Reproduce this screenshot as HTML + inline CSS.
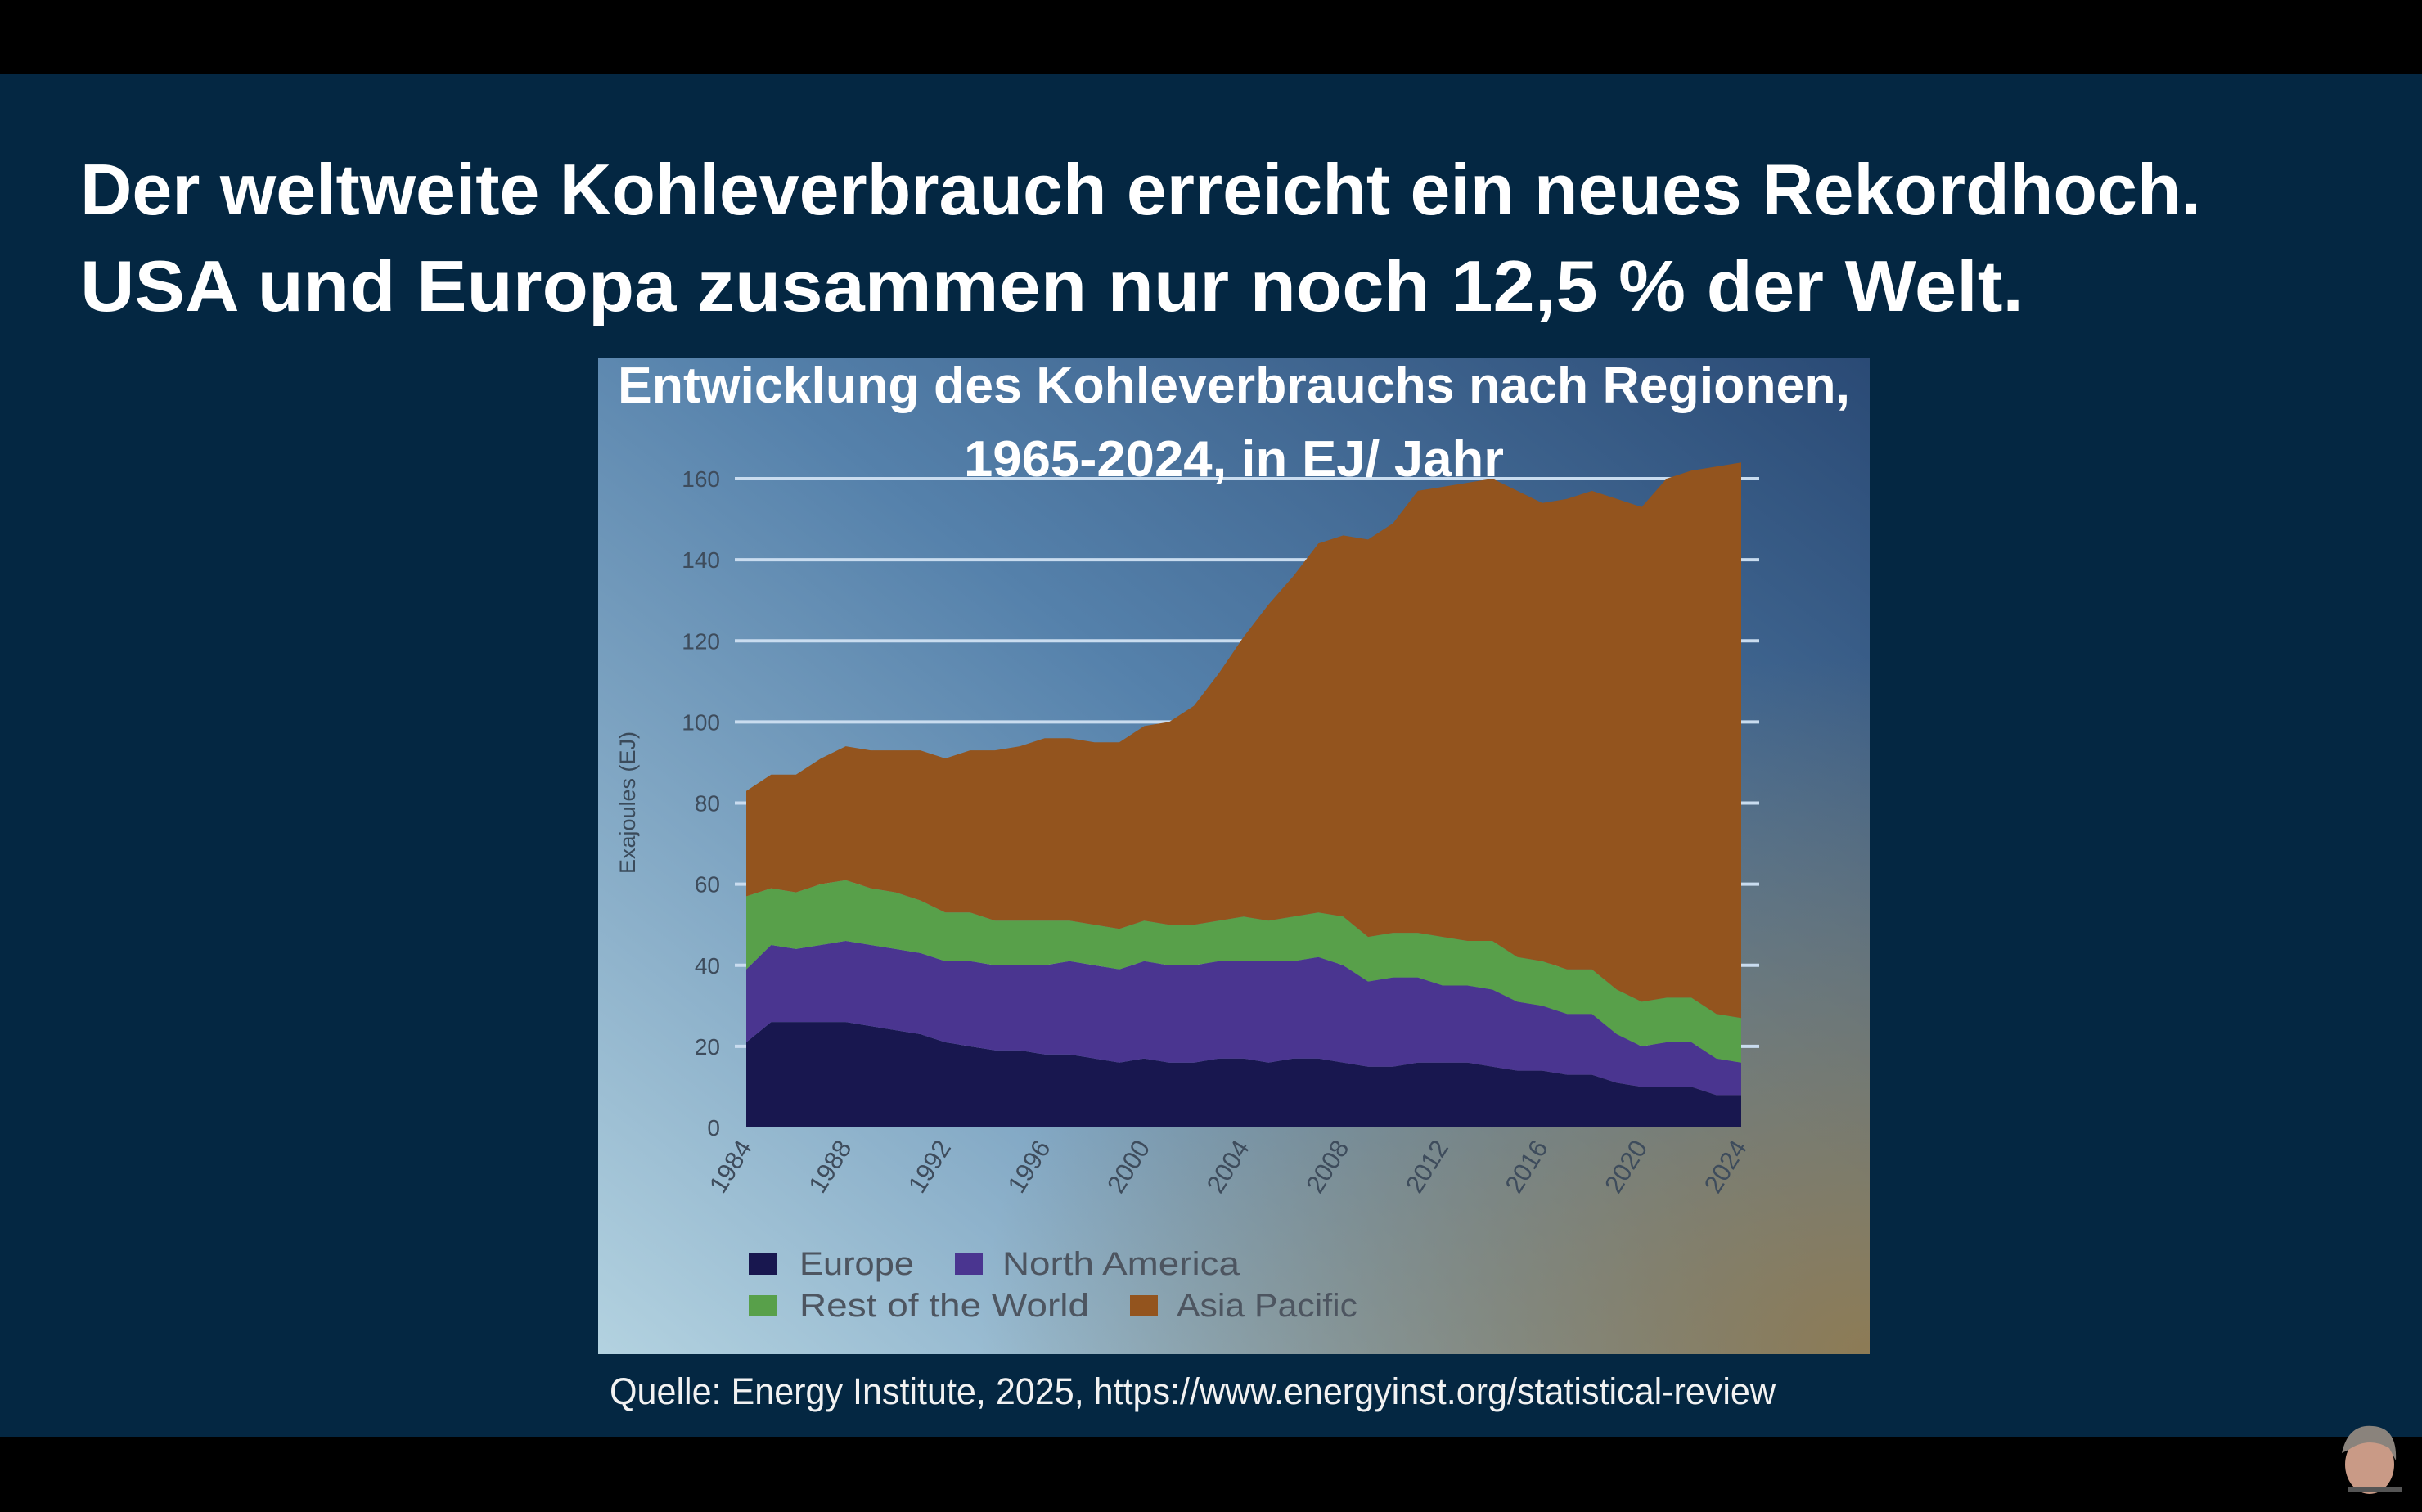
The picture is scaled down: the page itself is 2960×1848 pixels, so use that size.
<!DOCTYPE html>
<html><head><meta charset="utf-8">
<style>
html,body{margin:0;padding:0;background:#000;}
svg{display:block;}
text{font-family:"Liberation Sans",sans-serif;}
</style></head>
<body>
<svg id="page" width="2960" height="1848" viewBox="0 0 2960 1848" xmlns="http://www.w3.org/2000/svg">
<defs>
<linearGradient id="pg" x1="1" y1="0" x2="0" y2="1">
<stop offset="0" stop-color="#2a4a75"/>
<stop offset="0.45" stop-color="#5581ab"/>
<stop offset="1" stop-color="#b3d2e0"/>
</linearGradient>
<radialGradient id="tan" cx="1" cy="1" r="0.7">
<stop offset="0" stop-color="#8d7b55" stop-opacity="1"/>
<stop offset="1" stop-color="#8d7b55" stop-opacity="0"/>
</radialGradient>
</defs>
<rect x="0" y="0" width="2960" height="1848" fill="#000"/>
<rect x="0" y="91" width="2960" height="1665" fill="#042742"/>
<text x="98" y="262" font-size="88" font-weight="bold" fill="#fff" textLength="2592" lengthAdjust="spacingAndGlyphs">Der weltweite Kohleverbrauch erreicht ein neues Rekordhoch.</text>
<text x="98" y="380" font-size="88" font-weight="bold" fill="#fff" textLength="2375" lengthAdjust="spacingAndGlyphs">USA und Europa zusammen nur noch 12,5 % der Welt.</text>
<g>
<rect x="731" y="438" width="1554" height="1217" fill="url(#pg)"/>
<rect x="731" y="438" width="1554" height="1217" fill="url(#tan)"/>
<g id="grid"></g>
<g id="areas"></g>
<g id="yticks"></g>
<g id="xticks"></g>
<text x="0" y="0" transform="translate(776,981) rotate(-90)" text-anchor="middle" font-size="27" fill="#3a4a5a">Exajoules (EJ)</text>
<text x="1508" y="492" text-anchor="middle" font-size="62" font-weight="bold" fill="#fff" textLength="1506" lengthAdjust="spacingAndGlyphs">Entwicklung des Kohleverbrauchs nach Regionen,</text>
<text x="1508" y="582" text-anchor="middle" font-size="62" font-weight="bold" fill="#fff" textLength="660" lengthAdjust="spacingAndGlyphs">1965-2024, in EJ/ Jahr</text>
<g>
<g><rect x="915" y="1532" width="34" height="26" fill="#18174f"/><text x="977" y="1558" font-size="40" fill="#4d5560" textLength="140" lengthAdjust="spacingAndGlyphs">Europe</text></g>
<g><rect x="1167" y="1532" width="34" height="26" fill="#4a3590"/><text x="1225" y="1558" font-size="40" fill="#4d5560" textLength="290" lengthAdjust="spacingAndGlyphs">North America</text></g>
<g><rect x="915" y="1583" width="34" height="26" fill="#58a04a"/><text x="977" y="1609" font-size="40" fill="#4d5560" textLength="354" lengthAdjust="spacingAndGlyphs">Rest of the World</text></g>
<g><rect x="1381" y="1583" width="34" height="26" fill="#93541e"/><text x="1438" y="1609" font-size="40" fill="#4d5560" textLength="221" lengthAdjust="spacingAndGlyphs">Asia Pacific</text></g>
</g>
</g>
<text x="745" y="1716" font-size="45" fill="#f2f2f2" textLength="1425" lengthAdjust="spacingAndGlyphs">Quelle: Energy Institute, 2025, https://www.energyinst.org/statistical-review</text>
<g>
<ellipse cx="2896" cy="1790" rx="30" ry="36" fill="#c99a86"/>
<path d="M2862 1776 Q2870 1740 2900 1743 Q2930 1745 2928 1785 L2920 1770 Q2895 1755 2870 1772 Z" fill="#8a837c"/>
<rect x="2870" y="1818" width="66" height="6" fill="#555"/>
</g>
</svg>
<script>
const years = [1984,1985,1986,1987,1988,1989,1990,1991,1992,1993,1994,1995,1996,1997,1998,1999,2000,2001,2002,2003,2004,2005,2006,2007,2008,2009,2010,2011,2012,2013,2014,2015,2016,2017,2018,2019,2020,2021,2022,2023,2024];
const europe = [21,26,26,26,26,25,24,23,21,20,19,19,18,18,17,16,17,16,16,17,17,16,17,17,16,15,15,16,16,16,15,14,14,13,13,11,10,10,10,8,8];
const northAmerica = [18,19,18,19,20,20,20,20,20,21,21,21,22,23,23,23,24,24,24,24,24,25,24,25,24,21,22,21,19,19,19,17,16,15,15,12,10,11,11,9,8];
const restOfWorld = [18,14,14,15,15,14,14,13,12,12,11,11,11,10,10,10,10,10,10,10,11,10,11,11,12,11,11,11,12,11,12,11,11,11,11,11,11,11,11,11,11];
const asiaPacific = [26,28,29,31,33,34,35,37,38,40,42,43,45,45,45,46,48,50,54,61,69,78,84,91,94,98,101,109,111,113,114,115,113,116,118,121,122,128,130,135,137];
const yTickLabels = ["0","20","40","60","80","100","120","140","160"];
const xTickLabels = ["1984","1988","1992","1996","2000","2004","2008","2012","2016","2020","2024"];

const NS = "http://www.w3.org/2000/svg";
const X0 = 912, X1 = 2128, Y0 = 1378, PPU = 4.956;
const xMin = years[0], xMax = years[years.length-1];
function xs(yr){ return X0 + (yr - xMin) / (xMax - xMin) * (X1 - X0); }
function ys(v){ return Y0 - v * PPU; }

const grid = document.getElementById('grid');
const yt = document.getElementById('yticks');
yTickLabels.forEach(function(lbl){
  const v = parseFloat(lbl);
  if (v > 0) {
    const l = document.createElementNS(NS,'line');
    l.setAttribute('x1', 898); l.setAttribute('x2', 2150);
    l.setAttribute('y1', ys(v)); l.setAttribute('y2', ys(v));
    l.setAttribute('stroke', '#c9dcef'); l.setAttribute('stroke-width', 4);
    
    
    grid.appendChild(l);
  }
  const t = document.createElementNS(NS,'text');
  t.setAttribute('x', 880); t.setAttribute('y', ys(v) + 10);
  t.setAttribute('text-anchor', 'end'); t.setAttribute('font-size', 28);
  t.setAttribute('fill', '#3e4c5c');
  t.textContent = lbl;
  
  
  yt.appendChild(t);
});

const xt = document.getElementById('xticks');
xTickLabels.forEach(function(lbl){
  const x = xs(parseFloat(lbl));
  const t = document.createElementNS(NS,'text');
  t.setAttribute('transform', 'translate(' + (x + 8) + ',1402) rotate(-58)');
  t.setAttribute('text-anchor', 'end'); t.setAttribute('font-size', 31);
  t.setAttribute('fill', '#3e4c5c');
  t.textContent = lbl;
  
  
  xt.appendChild(t);
});

const series = [
  {name:'europe', vals:europe, color:'#18174f'},
  {name:'north-america', vals:northAmerica, color:'#4a3590'},
  {name:'rest-of-world', vals:restOfWorld, color:'#58a04a'},
  {name:'asia-pacific', vals:asiaPacific, color:'#93541e'}
];
const areas = document.getElementById('areas');
let base = years.map(function(){ return 0; });
series.forEach(function(s){
  const top = base.map(function(b,i){ return b + s.vals[i]; });
  let d = '';
  years.forEach(function(yr,i){ d += (i ? 'L' : 'M') + xs(yr).toFixed(1) + ' ' + ys(top[i]).toFixed(1) + ' '; });
  for (let i = years.length - 1; i >= 0; i--) d += 'L' + xs(years[i]).toFixed(1) + ' ' + ys(base[i]).toFixed(1) + ' ';
  d += 'Z';
  const p = document.createElementNS(NS,'path');
  p.setAttribute('d', d);
  p.setAttribute('fill', s.color);
  
  
  areas.appendChild(p);
  base = top;
});
</script>
</body></html>
